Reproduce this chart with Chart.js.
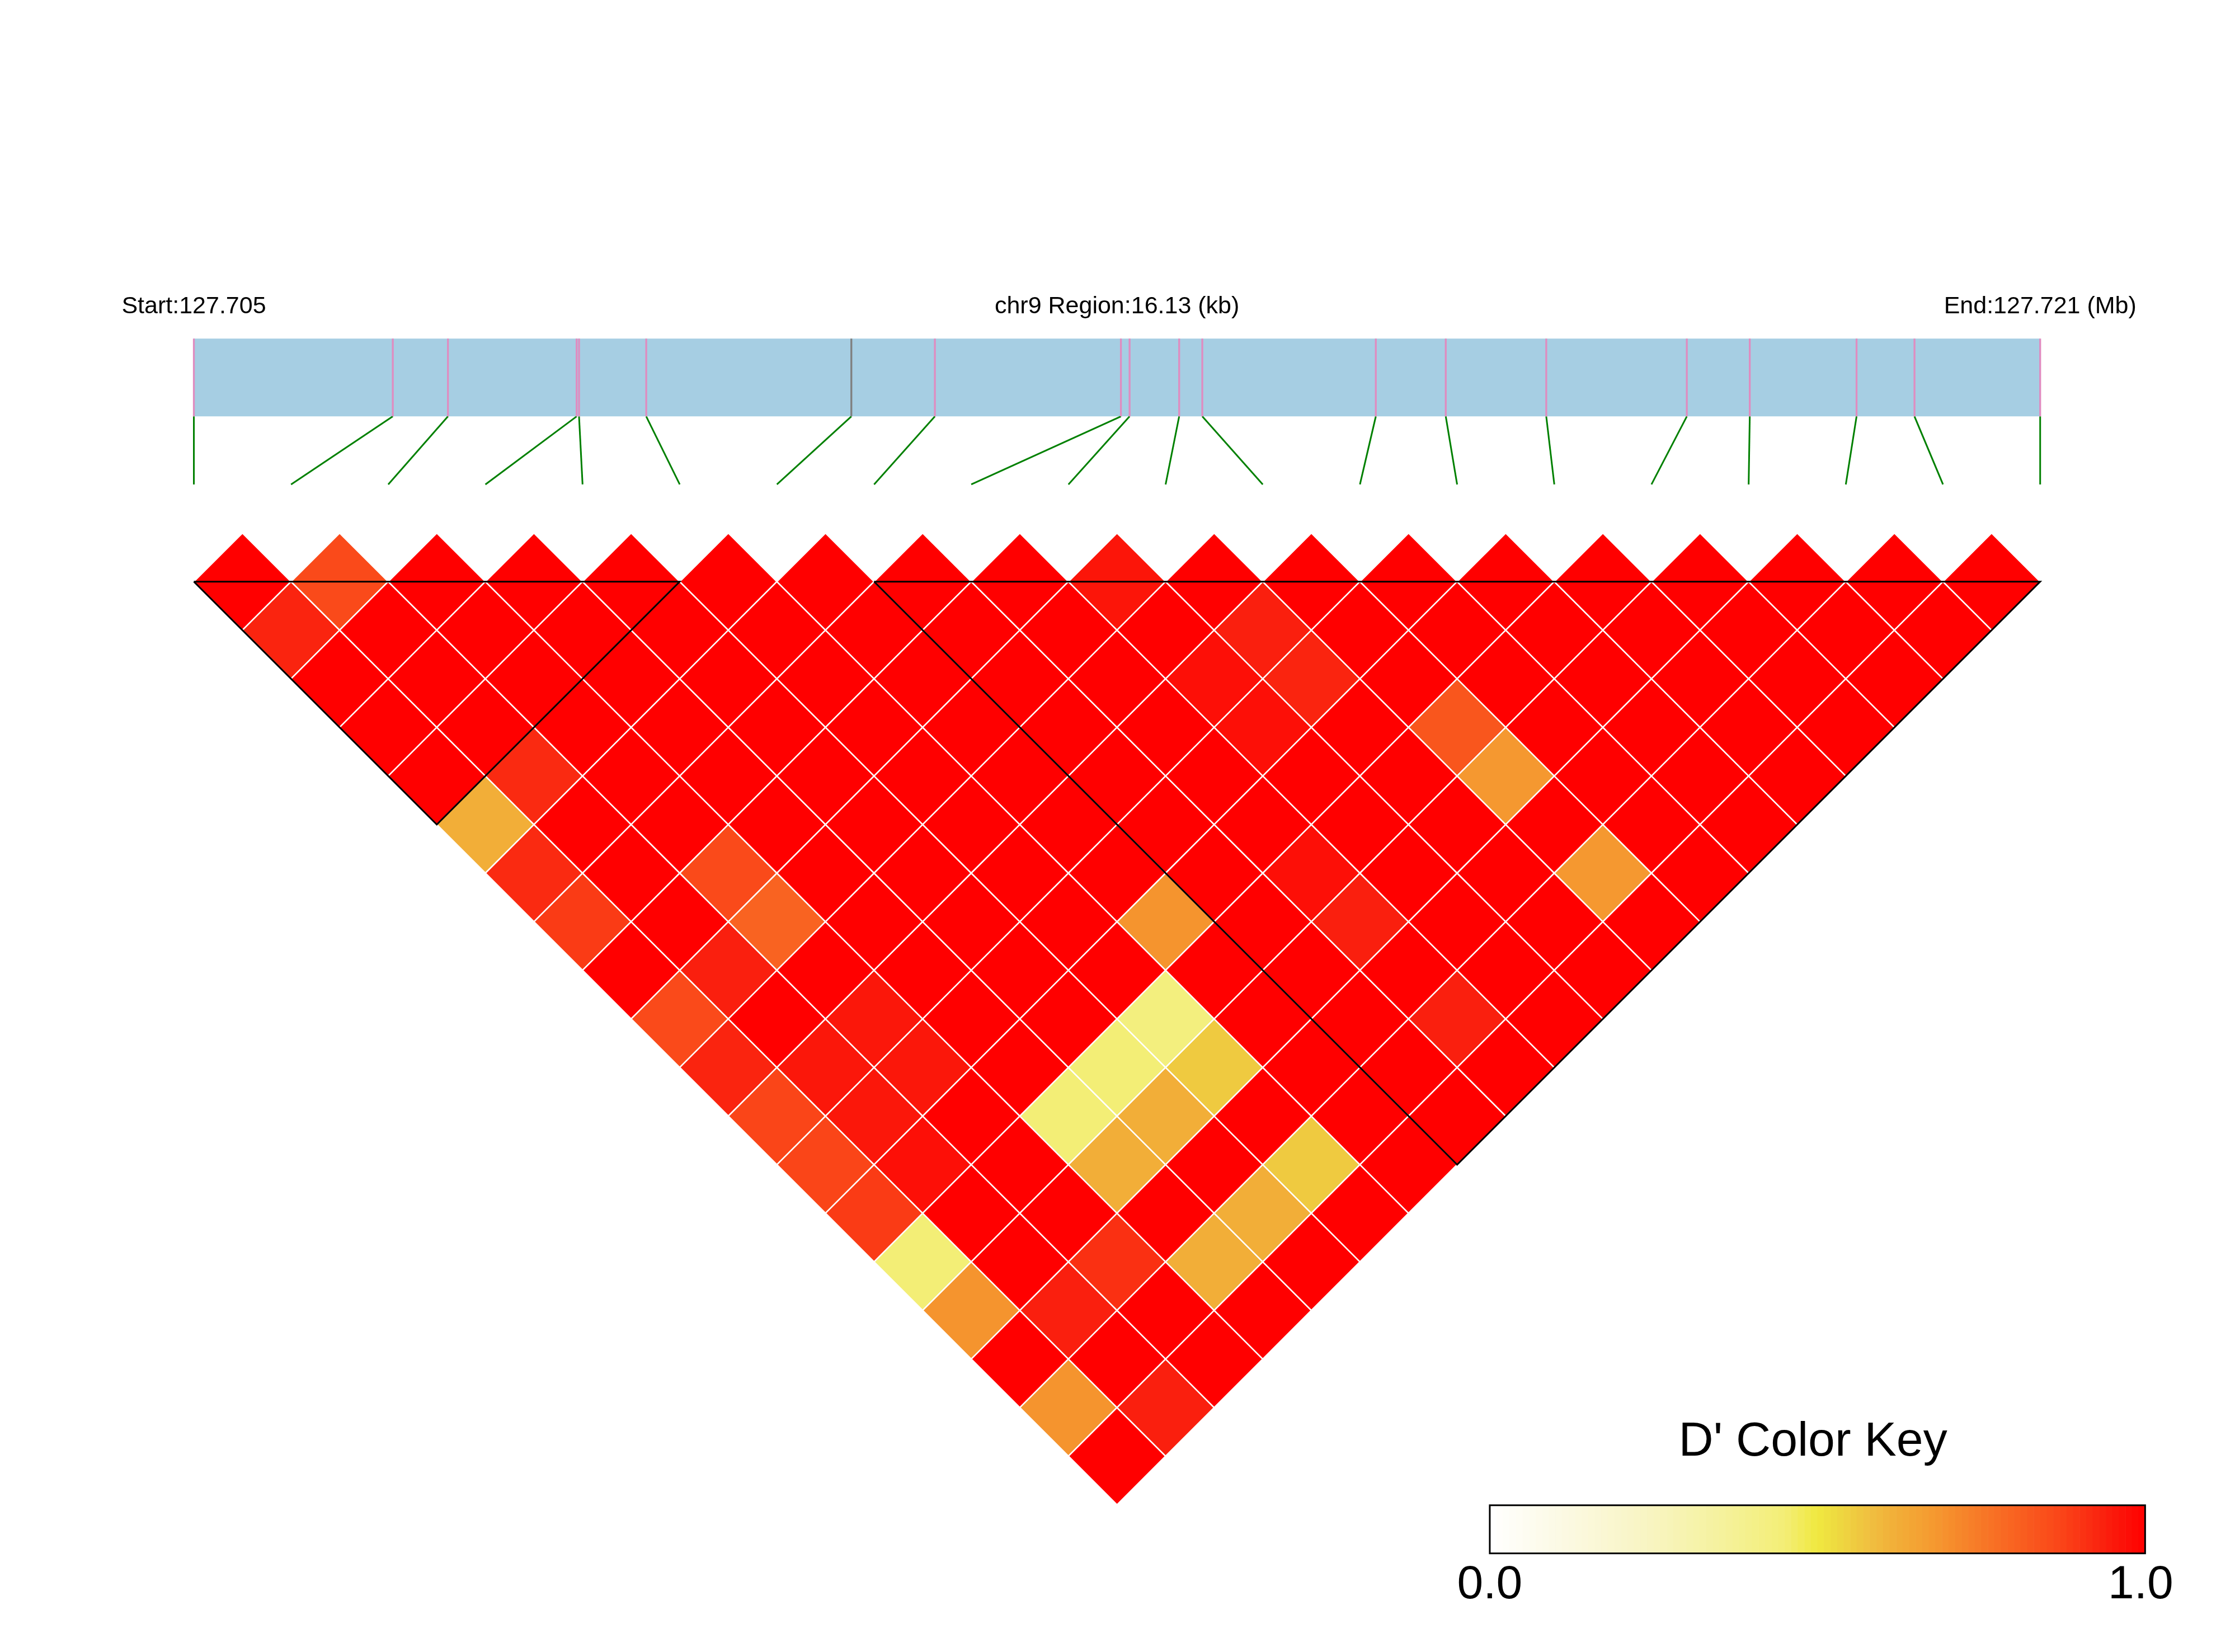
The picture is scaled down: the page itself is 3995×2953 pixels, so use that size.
<!DOCTYPE html>
<html>
<head>
<meta charset="utf-8">
<title>LD heatmap chr9</title>
<script src="https://cdn.jsdelivr.net/npm/chart.js@4.4.1/dist/chart.umd.min.js"></script>
<style>
  html, body { margin: 0; padding: 0; background: #fff; }
  canvas { display: block; }
</style>
</head>
<body>
<canvas id="ldmap" width="3995" height="2953"></canvas>
<script>
// SNP positions (bp) on chr9
var snpPos = [127705000, 127706738, 127707220, 127708344, 127708365, 127708952, 127710744,
              127711474, 127713099, 127713175, 127713608, 127713810, 127715326, 127715937,
              127716815, 127718043, 127718593, 127719526, 127720032, 127721130];
var regionStart = 127705000;
var regionEnd = 127721130;
var chromName = "chr9";

// haplotype blocks, [first snp, last snp]
var blocks = [[0, 5], [7, 19]];

// D' rows: row i holds D'(i, j) for j = i+1 .. 19
var dPrime = [
    [1, .93, 1, 1, 1, .62, .92, .89, 1, .86, .93, .87, .87, .89, .45, .69, 1, .69, 1],
    [.86, 1, 1, 1, .92, 1, 1, 1, .94, 1, .955, .955, .97, 1, 1, .94, 1, .94],
    [1, 1, 1, 1, 1, 1, .86, .80, 1, .955, .955, 1, 1, 1, .91, 1, 1],
    [1, 1, 1, 1, 1, 1, 1, 1, 1, 1, 1, .45, .62, 1, .62, 1],
    [1, 1, 1, 1, 1, 1, 1, 1, 1, 1, .45, .62, 1, .62, 1],
    [1, 1, 1, 1, 1, 1, 1, 1, 1, .43, .56, 1, .56, 1],
    [1, 1, 1, 1, 1, 1, 1, .69, 1, 1, 1, 1, 1],
    [1, 1, 1, 1, 1, 1, 1, 1, 1, 1, 1, 1],
    [1, 1, 1, 1, 1, 1, .97, .94, 1, .94, 1],
    [.96, 1, .97, .97, 1, 1, 1, 1, 1, 1],
    [1, .94, .93, 1, 1, 1, 1, 1, 1],
    [1, 1, 1, .83, .68, 1, .68, 1],
    [1, 1, 1, 1, 1, 1, 1],
    [1, 1, 1, 1, 1, 1],
    [1, 1, 1, 1, 1],
    [1, 1, 1, 1],
    [1, 1, 1],
    [1, 1],
    [1]
];

var keyTitle = "D' Color Key";
var keyTicks = ["0.0", "1.0"];
var keyBins = 100;

// colour ramp white -> yellow -> orange -> red
var rampStops = [
    [0.000, 255, 255, 255],
    [0.100, 252, 250, 230],
    [0.250, 248, 244, 192],
    [0.350, 245, 242, 158],
    [0.450, 243, 238, 118],
    [0.500, 240, 232, 64],
    [0.533, 238, 216, 64],
    [0.578, 240, 192, 64],
    [0.620, 242, 174, 56],
    [0.676, 245, 154, 48],
    [0.742, 247, 124, 40],
    [0.807, 249, 96, 32],
    [0.873, 250, 68, 24],
    [0.938, 250, 32, 14],
    [1.000, 255, 0, 0]
];

function dColor(v) {
    for (var k = 1; k < rampStops.length; k++) {
        var a = rampStops[k - 1], b = rampStops[k];
        if (v <= b[0]) {
            var t = (v - a[0]) / (b[0] - a[0]);
            return 'rgb(' + Math.round(a[1] + t * (b[1] - a[1])) + ',' +
                Math.round(a[2] + t * (b[2] - a[2])) + ',' +
                Math.round(a[3] + t * (b[3] - a[3])) + ')';
        }
    }
    return 'rgb(255,0,0)';
}

var nSnp = snpPos.length;
var mapTop = -2.5, mapBottom = -1.7, tickBottom = -1.0;

function genomeX(p) {
    return (p - regionStart) / (regionEnd - regionStart) * (nSnp - 1);
}

// cells of the rotated matrix
var cells = [];
dPrime.forEach(function (row, i) {
    row.forEach(function (v, k) {
        var j = i + 1 + k;
        cells.push({x: (i + j) / 2, y: (j - i - 1) / 2, v: v});
    });
});

var datasets = [];

datasets.push({
    type: 'scatter',
    data: cells,
    order: 20,
    pointStyle: 'rectRot',
    pointRadius: function (c) {
        var s = c.chart.scales.x;
        return s.getPixelForValue(0.5) - s.getPixelForValue(0);
    },
    pointBackgroundColor: function (c) { return dColor(c.raw.v); },
    pointBorderColor: '#ffffff',
    pointBorderWidth: 2.5
});

// block outlines
blocks.forEach(function (b) {
    var h = (b[1] - b[0]) / 2;
    datasets.push({
        type: 'line',
        data: [{x: b[0], y: 0}, {x: b[1], y: 0}, {x: b[0] + h, y: h}, {x: b[0], y: 0}],
        order: 1,
        borderColor: '#000000',
        borderWidth: 3,
        pointRadius: 0,
        fill: false
    });
});

// gene map band
datasets.push({
    type: 'line',
    data: [{x: 0, y: mapTop}, {x: nSnp - 1, y: mapTop}],
    order: 15,
    borderWidth: 0,
    pointRadius: 0,
    backgroundColor: '#a6cee3',
    fill: '+1'
});
datasets.push({
    type: 'line',
    data: [{x: 0, y: mapBottom}, {x: nSnp - 1, y: mapBottom}],
    order: 16,
    borderWidth: 0,
    pointRadius: 0,
    fill: false
});

// snp marks on the band and connectors to the matrix
snpPos.forEach(function (p, k) {
    var gx = genomeX(p);
    datasets.push({
        type: 'line',
        data: [{x: gx, y: mapTop}, {x: gx, y: mapBottom}],
        order: 5,
        borderColor: k === 6 ? '#7f7f7f' : '#e08cc0',
        borderWidth: 3.3,
        pointRadius: 0,
        fill: false
    });
    datasets.push({
        type: 'line',
        data: [{x: gx, y: mapBottom}, {x: k, y: tickBottom}],
        order: 5,
        borderColor: '#008000',
        borderWidth: 3,
        pointRadius: 0,
        fill: false
    });
});

var font = '"Liberation Sans", Arial, Helvetica, sans-serif';

// texts and colour key
var ldExtras = {
    id: 'ldExtras',
    afterDraw: function (chart) {
        var ctx = chart.ctx, x = chart.scales.x, y = chart.scales.y;
        ctx.save();
        ctx.fillStyle = '#000';
        ctx.textAlign = 'center';
        ctx.textBaseline = 'middle';
        ctx.font = '43px ' + font;
        var ty = y.getPixelForValue(-2.83);
        ctx.fillText('Start:' + (regionStart / 1e6).toFixed(3), x.getPixelForValue(0), ty);
        ctx.fillText(chromName + ' Region:' + ((regionEnd - regionStart) / 1000).toFixed(2) + ' (kb)',
            x.getPixelForValue((nSnp - 1) / 2), ty);
        ctx.fillText('End:' + (regionEnd / 1e6).toFixed(3) + ' (Mb)', x.getPixelForValue(nSnp - 1), ty);

        var kl = x.getPixelForValue(13.336), kr = x.getPixelForValue(20.08);
        var kt = y.getPixelForValue(9.505), kb = y.getPixelForValue(10.0);
        var w = (kr - kl) / keyBins;
        for (var b = 0; b < keyBins; b++) {
            ctx.fillStyle = dColor((b + 0.5) / keyBins);
            ctx.fillRect(kl + b * w, kt, w + 0.6, kb - kt);
        }
        ctx.strokeStyle = '#000';
        ctx.lineWidth = 3;
        ctx.strokeRect(kl, kt, kr - kl, kb - kt);

        ctx.fillStyle = '#000';
        ctx.font = '86px ' + font;
        ctx.fillText(keyTitle, (kl + kr) / 2 - 8, y.getPixelForValue(8.857));
        ctx.font = '84px ' + font;
        ctx.fillText(keyTicks[0], kl, y.getPixelForValue(10.33));
        ctx.fillText(keyTicks[1], kr - 8, y.getPixelForValue(10.33));
        ctx.restore();
    }
};

new Chart(document.getElementById('ldmap'), {
    type: 'scatter',
    data: {datasets: datasets},
    options: {
        responsive: false,
        devicePixelRatio: 1,
        animation: false,
        events: [],
        layout: {padding: 0},
        plugins: {
            legend: {display: false},
            tooltip: {enabled: false}
        },
        scales: {
            x: {type: 'linear', min: -1.995, max: 21.005, display: false},
            y: {type: 'linear', min: -5.985, max: 11.015, reverse: true, display: false}
        }
    },
    plugins: [ldExtras]
});
</script>
</body>
</html>
